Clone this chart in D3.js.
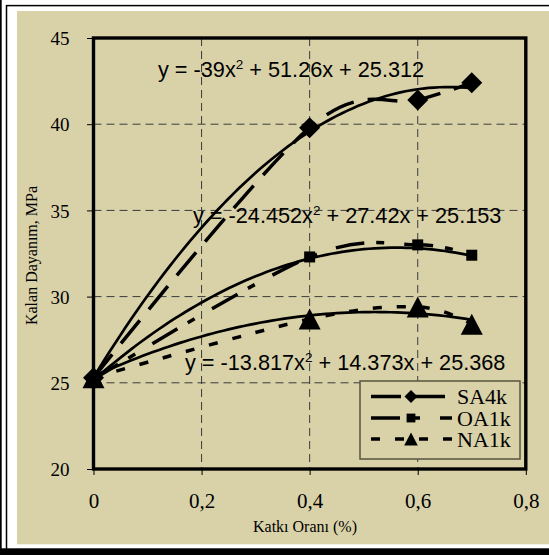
<!DOCTYPE html>
<html>
<head>
<meta charset="utf-8">
<script src="https://cdn.jsdelivr.net/npm/d3@7/dist/d3.min.js"></script>
<style>
  html, body { margin: 0; padding: 0; background: #ffffff; }
  svg { display: block; }
</style>
</head>
<body>
<svg id="chart" width="549" height="555"></svg>
<script>
// ---- data ----
const xValues = [0, 0.4, 0.6, 0.7];
const seriesNames = ["SA4k", "OA1k", "NA1k"];
const SA4k = [25.3, 39.8, 41.4, 42.4];
const OA1k = [25.2, 32.3, 33.0, 32.4];
const NA1k = [25.3, 28.7, 29.4, 28.4];
// trendline coefficients [a, b, c] for y = a x^2 + b x + c (as printed on the chart)
const trendSA = [-39, 51.26, 25.312];
const trendOA = [-24.452, 27.42, 25.153];
const trendNA = [-13.817, 14.373, 25.368];
const eqLabels = [
  ["y = -39x", "2", " + 51.26x + 25.312"],
  ["y = -24.452x", "2", " + 27.42x + 25.153"],
  ["y = -13.817x", "2", " + 14.373x + 25.368"]
];
const xTicks = [0, 0.2, 0.4, 0.6, 0.8];
const xTickLabels = ["0", "0,2", "0,4", "0,6", "0,8"];
const yTicks = [20, 25, 30, 35, 40, 45];
const xTitle = "Katkı Oranı (%)";
const yTitle = "Kalan Dayanım, MPa";

// ---- layout ----
const svg = d3.select("#chart");
const BEIGE = "#D9D2A9";
const plot = { left: 93.5, right: 525.8, top: 38, bottom: 469 };
const x = d3.scaleLinear().domain([0, 0.8]).range([plot.left, plot.right]);
const y = d3.scaleLinear().domain([20, 45]).range([plot.bottom, plot.top]);

// frame
svg.append("rect").attr("x", 0).attr("y", 0).attr("width", 1.7).attr("height", 555).attr("fill", "#000");
svg.append("rect").attr("x", 6.5).attr("y", 5.6).attr("width", 600).attr("height", 545)
  .attr("fill", "none").attr("stroke", "#000").attr("stroke-width", 1.5);
svg.append("rect").attr("x", 17).attr("y", 11).attr("width", 540).attr("height", 533.3).attr("fill", BEIGE);
svg.append("rect").attr("x", 0).attr("y", 548.3).attr("width", 549).attr("height", 7).attr("fill", "#000");

// gridlines
const grid = svg.append("g").attr("stroke", "#3a3a3a").attr("stroke-width", 1).attr("stroke-dasharray", "8,5");
[25, 30, 35, 40].forEach(v => {
  grid.append("line").attr("x1", plot.left).attr("x2", plot.right).attr("y1", y(v)).attr("y2", y(v));
});
[0.2, 0.4, 0.6].forEach(v => {
  grid.append("line").attr("y1", plot.top).attr("y2", plot.bottom).attr("x1", x(v)).attr("x2", x(v));
});

// axes
const yAxis = d3.axisLeft(y).tickValues(yTicks).tickSize(6.5).tickFormat(d3.format("d"));
const gy = svg.append("g").attr("transform", `translate(${plot.left},0)`).call(yAxis);
gy.select(".domain").remove();
gy.selectAll(".tick line").attr("stroke", "#000").attr("stroke-width", 1);
gy.selectAll(".tick text").attr("x", -24).attr("dy", "0.35em")
  .attr("font-family", "'Liberation Serif', 'Times New Roman', serif").attr("font-size", 19).attr("fill", "#000");

const xAxis = d3.axisBottom(x).tickValues(xTicks).tickSize(6).tickFormat((d, i) => xTickLabels[i]);
const gx = svg.append("g").attr("transform", `translate(0,${plot.bottom})`).call(xAxis);
gx.select(".domain").remove();
gx.selectAll(".tick line").attr("stroke", "#000").attr("stroke-width", 1);
gx.selectAll(".tick text").attr("y", 39).attr("dy", 0)
  .attr("font-family", "'Liberation Serif', 'Times New Roman', serif").attr("font-size", 21).attr("fill", "#000");

// plot border
svg.append("rect").attr("x", plot.left).attr("y", plot.top)
  .attr("width", plot.right - plot.left).attr("height", plot.bottom - plot.top)
  .attr("fill", "none").attr("stroke", "#000").attr("stroke-width", 3.4);

// axis titles
svg.append("text").attr("x", 305).attr("y", 531.5).attr("text-anchor", "middle")
  .attr("font-family", "'Liberation Serif', 'Times New Roman', serif").attr("font-size", 16).text(xTitle);
svg.append("text").attr("transform", "translate(37,255.5) rotate(-90)").attr("text-anchor", "middle")
  .attr("font-family", "'Liberation Serif', 'Times New Roman', serif").attr("font-size", 16).text(yTitle);

// trendlines
const trendSamples = d3.range(0, 0.7001, 0.01);
const trendLine = d3.line().x(d => x(d[0])).y(d => y(d[1]));
[trendSA, trendOA, trendNA].forEach(c => {
  const pts = trendSamples.map(t => [t, c[0] * t * t + c[1] * t + c[2]]);
  svg.append("path").attr("d", trendLine(pts)).attr("fill", "none")
    .attr("stroke", "#000").attr("stroke-width", 2.7);
});

// series lines (smoothed like Excel)
const dashes = ["30,14", "29,12,8,20", "9,15"];
const seriesData = [SA4k, OA1k, NA1k];
const serLine = d3.line().x(d => x(d[0])).y(d => y(d[1])).curve(d3.curveCardinal.tension(0));
seriesData.forEach((s, i) => {
  const pts = xValues.map((xv, j) => [xv, s[j]]);
  svg.append("path").attr("d", serLine(pts)).attr("fill", "none")
    .attr("stroke", "#000").attr("stroke-width", 3.5).attr("stroke-dasharray", dashes[i]);
});

// markers
function marker(g, type, cx, cy, scale) {
  if (type === 0) {
    const r = 10.5 * scale;
    g.append("path").attr("d", `M${cx},${cy - r}L${cx + r},${cy}L${cx},${cy + r}L${cx - r},${cy}Z`).attr("fill", "#000");
  } else if (type === 1) {
    const h = 5.5 * scale;
    g.append("rect").attr("x", cx - h).attr("y", cy - h).attr("width", 2 * h).attr("height", 2 * h).attr("fill", "#000");
  } else {
    const w = 11 * scale, hh = 10.5 * scale;
    g.append("path").attr("d", `M${cx},${cy - hh}L${cx + w},${cy + hh}L${cx - w},${cy + hh}Z`).attr("fill", "#000");
  }
}
const mg = svg.append("g");
seriesData.forEach((s, i) => {
  xValues.forEach((xv, j) => marker(mg, i, x(xv), y(s[j]), 1));
});

// equations
const eqPos = [[158, 76.5], [193, 223], [185, 370]];
eqLabels.forEach((parts, i) => {
  const t = svg.append("text").attr("x", eqPos[i][0]).attr("y", eqPos[i][1])
    .attr("font-family", "'Liberation Sans', Arial, sans-serif").attr("font-size", 21.7).attr("fill", "#000");
  t.append("tspan").text(parts[0]);
  t.append("tspan").attr("font-size", 13.5).attr("dy", -8).text(parts[1]);
  t.append("tspan").attr("dy", 8).text(parts[2]);
});

// legend
const lg = svg.append("g");
lg.append("rect").attr("x", 360).attr("y", 381).attr("width", 160).attr("height", 78)
  .attr("fill", BEIGE).attr("stroke", "#55543f").attr("stroke-width", 1.5);
const rowsY = [396.5, 418, 439];
seriesNames.forEach((name, i) => {
  lg.append("line").attr("x1", 371).attr("x2", 452).attr("y1", rowsY[i]).attr("y2", rowsY[i])
    .attr("stroke", "#000").attr("stroke-width", 3.5).attr("stroke-dasharray", dashes[i]);
  marker(lg, i, 411, rowsY[i], i === 1 ? 0.8 : 0.62);
  lg.append("text").attr("x", 457).attr("y", rowsY[i] + 7.5)
    .attr("font-family", "'Liberation Serif', 'Times New Roman', serif").attr("font-size", 22).text(name);
});
</script>
</body>
</html>
